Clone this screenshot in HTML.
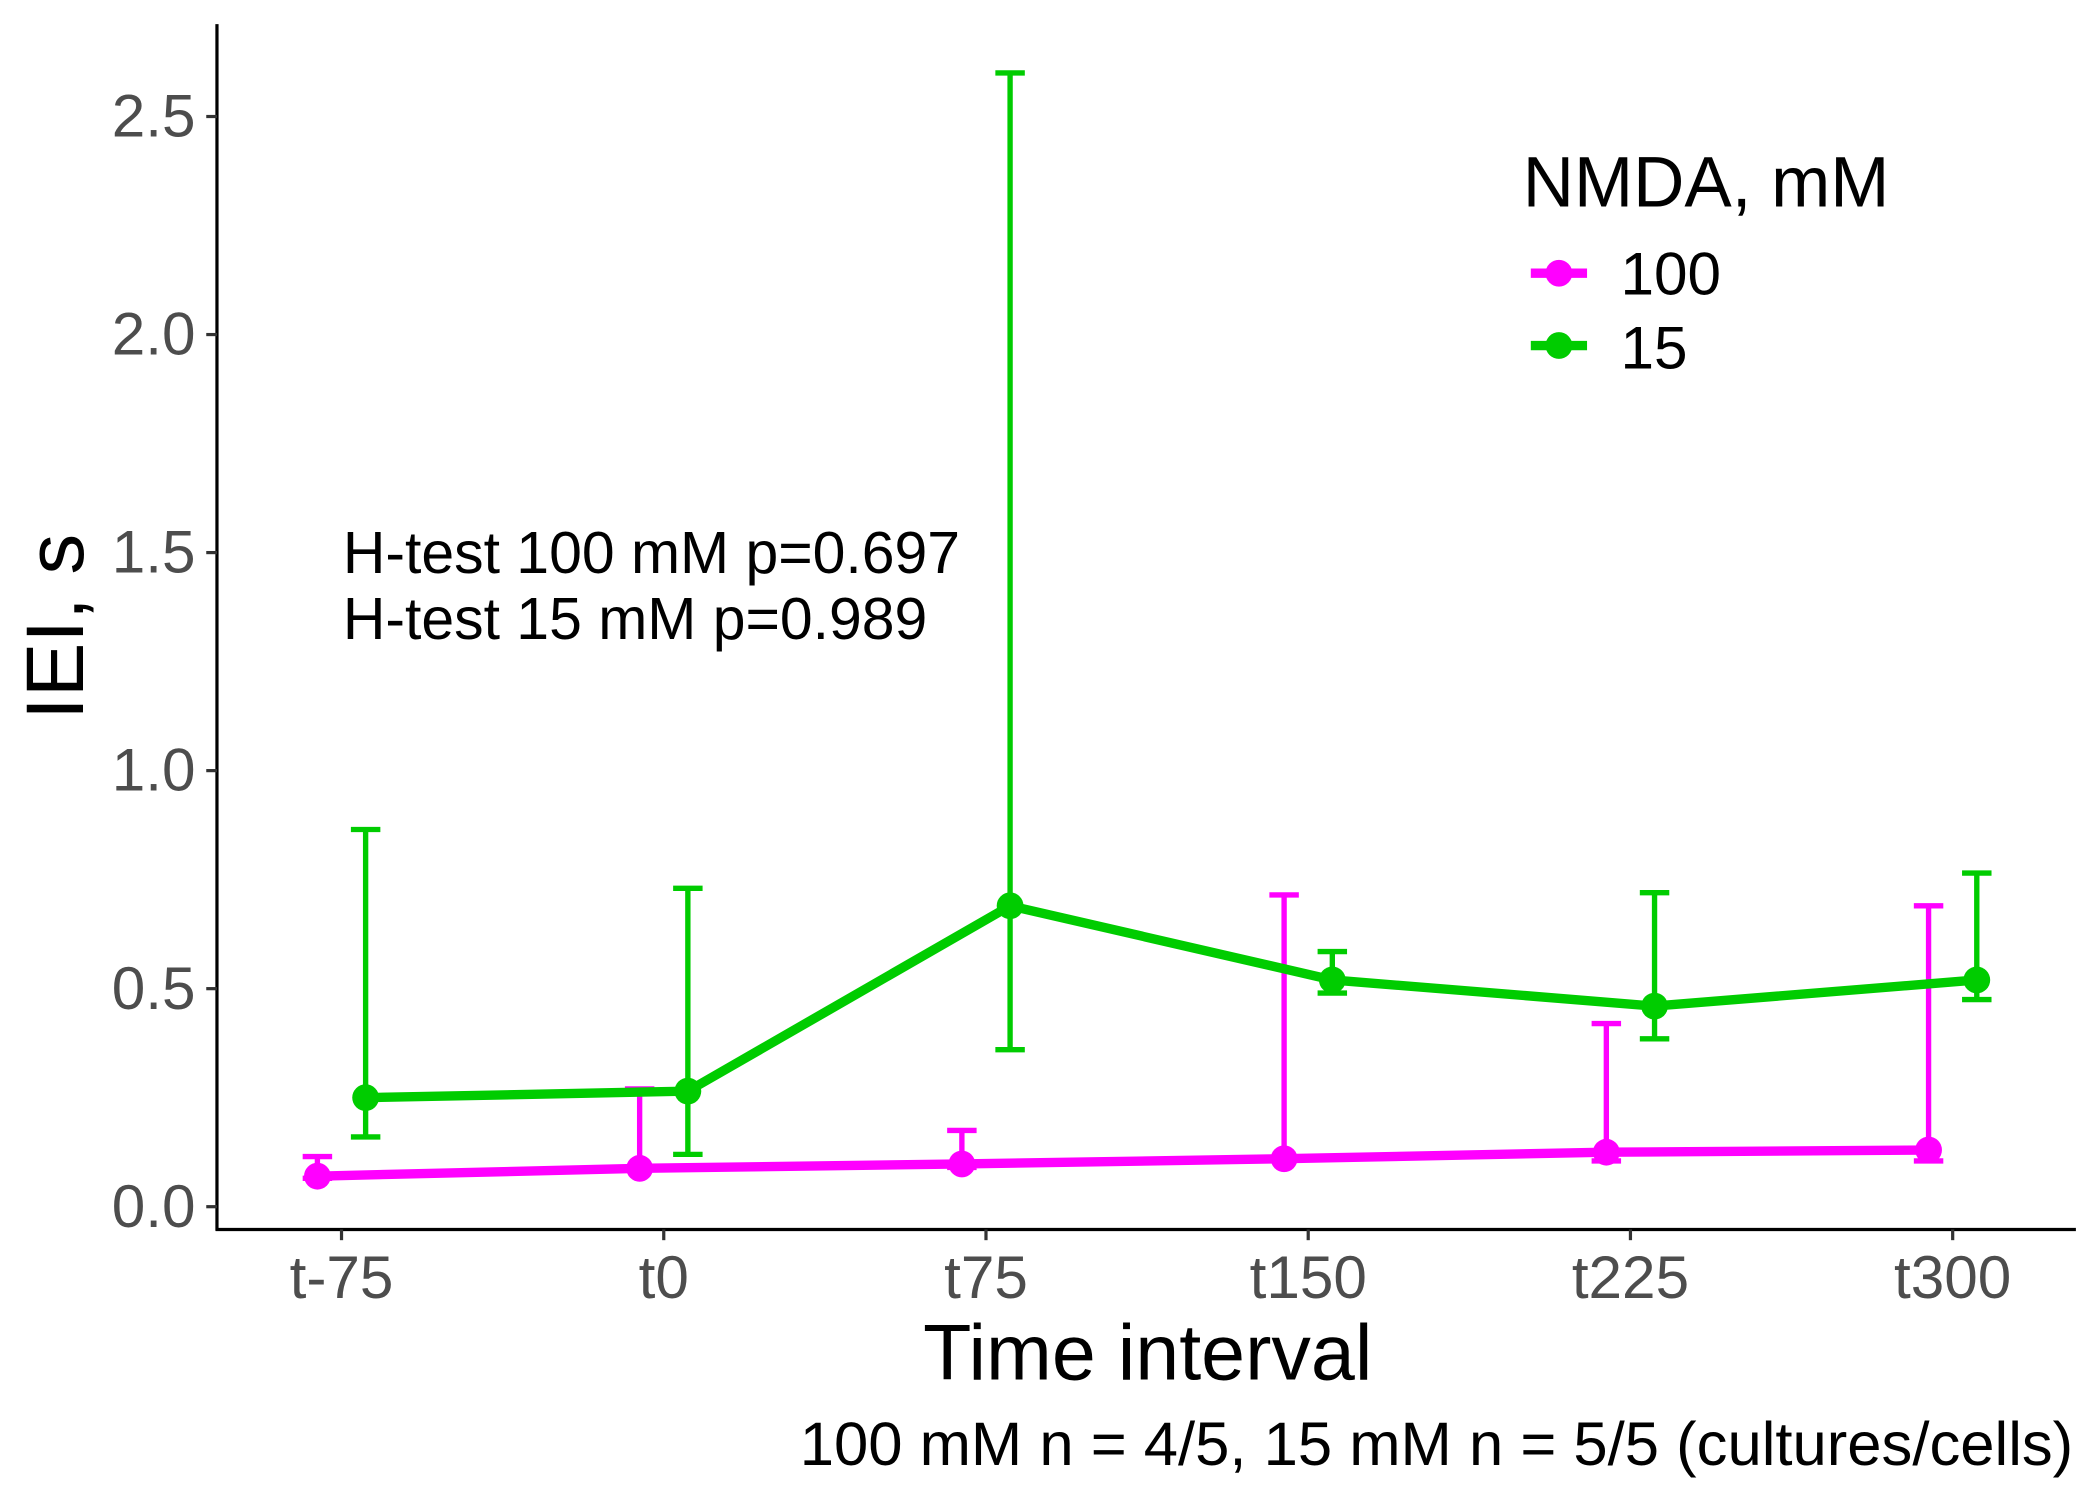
<!DOCTYPE html>
<html><head><meta charset="utf-8"><style>html,body{margin:0;padding:0;background:#fff}svg{display:block}text{font-family:"Liberation Sans",sans-serif}</style></head>
<body>
<svg id="chart" width="2100" height="1500" viewBox="0 0 1568 1120" xmlns="http://www.w3.org/2000/svg">
<rect width="1568" height="1120" fill="#fff"/>
<g id="marks"></g>
<line x1="162" y1="18" x2="162" y2="919" stroke="#000" stroke-width="2.4"/>
<line x1="161" y1="918" x2="1550" y2="918" stroke="#000" stroke-width="2.4"/>
<text transform="translate(62,468) rotate(-90)" text-anchor="middle" font-size="61">IEI, s</text>
<text x="857" y="1030" text-anchor="middle" font-size="59">Time interval</text>
<text x="1548" y="1094" text-anchor="end" font-size="46">100 mM n = 4/5, 15 mM n = 5/5 (cultures/cells)</text>
<text x="256" y="428" font-size="44">H-test 100 mM p=0.697</text>
<text x="256" y="477" font-size="44">H-test 15 mM p=0.989</text>
<g>
<text x="1137" y="154" font-size="53">NMDA, mM</text>
<g><line x1="1143" y1="204" x2="1185" y2="204" stroke="#ff00ff" stroke-width="7"/><circle cx="1164" cy="204" r="10" fill="#ff00ff"/><text x="1210" y="220" font-size="45">100</text></g>
<g><line x1="1143" y1="258" x2="1185" y2="258" stroke="#00cc00" stroke-width="7"/><circle cx="1164" cy="258" r="10" fill="#00cc00"/><text x="1210" y="275" font-size="45">15</text></g>
</g>
</svg>
<script>
const categories=["t-75","t0","t75","t150","t225","t300"];
const yTicks=[0,0.5,1,1.5,2,2.5];
const yTickLabels=["0.0","0.5","1.0","1.5","2.0","2.5"];
const mean100=[0.07,0.088,0.098,0.11,0.125,0.13];
const upper100=[0.115,0.27,0.175,0.715,0.42,0.69];
const lower100=[0.065,0.085,0.09,0.11,0.105,0.105];
const mean15=[0.25,0.265,0.69,0.52,0.46,0.52];
const upper15=[0.865,0.73,2.6,0.585,0.72,0.765];
const lower15=[0.16,0.12,0.36,0.49,0.385,0.475];
const NS="http://www.w3.org/2000/svg";
function y(v){return 901-v*325.6;}
function x(i){return 255+i*240.6;}
function mk(tag,attrs,parent){const e=document.createElementNS(NS,tag);for(const k in attrs)e.setAttribute(k,attrs[k]);parent.appendChild(e);return e;}
const svg=document.getElementById('chart');
const marks=document.getElementById('marks');
yTicks.forEach((v,i)=>{
 const t=mk('line',{x1:154,x2:162,y1:y(v),y2:y(v),stroke:'#333','stroke-width':2.4},svg);
 
 
 const l=mk('text',{x:146,y:y(v)+15,'text-anchor':'end','font-size':45,fill:'#4d4d4d'},svg);
 l.textContent=yTickLabels[i];
 
 
});
categories.forEach((c,i)=>{
 const t=mk('line',{x1:x(i),x2:x(i),y1:918,y2:926,stroke:'#333','stroke-width':2.4},svg);
 
 
 const l=mk('text',{x:x(i),y:969,'text-anchor':'middle','font-size':45,fill:'#4d4d4d'},svg);
 l.textContent=c;
 
 
});
function series(mean,up,lo,color,dx,name){
 const g=mk('g',{},marks);
 
 
 mean.forEach((m,i)=>{
  const cx=x(i)+dx;
  const eb=mk('path',{d:`M${cx-11},${y(up[i])}H${cx+11}M${cx},${y(up[i])}V${y(lo[i])}M${cx-11},${y(lo[i])}H${cx+11}`,stroke:color,'stroke-width':4,fill:'none'},g);
  
  
 });
 const ln=mk('polyline',{points:mean.map((m,i)=>`${x(i)+dx},${y(m)}`).join(' '),stroke:color,'stroke-width':7,fill:'none'},g);
 
 
 mean.forEach((m,i)=>{
  const p=mk('circle',{cx:x(i)+dx,cy:y(m),r:10,fill:color},g);
  
  
 });
}
series(mean100,upper100,lower100,'#ff00ff',-18,'100');
series(mean15,upper15,lower15,'#00cc00',18,'15');
</script>
</body></html>
